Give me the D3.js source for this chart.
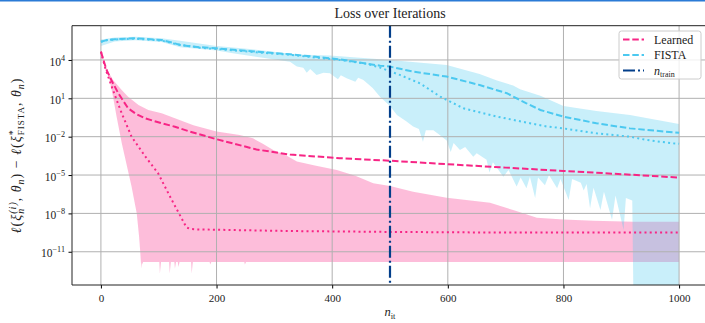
<!DOCTYPE html>
<html>
<head>
<meta charset="utf-8">
<script src="https://d3js.org/d3.v7.min.js"></script>
<style>
  html, body { margin: 0; padding: 0; background: #fff; }
  svg { display: block; font-family: "Liberation Serif", "DejaVu Serif", serif; }
</style>
</head>
<body>
<div id="chart"></div>
<script>
// values are [iteration, log10(loss gap)]
const learnedMedian = [[0,4.65],[5,3.9],[10,3.2],[18,2.43],[30,1.4],[47,0.22],[60,-0.2],[76,-0.56],[105,-0.95],[128,-1.22],[154,-1.6],[200,-2.2],[269,-3.0],[327,-3.4],[413,-3.68],[500,-3.88],[598,-4.15],[700,-4.42],[800,-4.68],[900,-4.93],[1000,-5.2]];
const learnedDotted = [[0,4.65],[8,3.3],[18,2.0],[27,0.9],[36,-0.17],[53,-2.0],[76,-3.5],[99,-4.87],[122,-6.9],[135,-8.0],[148,-9.1],[155,-9.22],[165,-9.25],[250,-9.32],[330,-9.38],[500,-9.45],[700,-9.5],[1000,-9.5]];
const learnedUpper = [[0,4.7],[10,3.3],[21,2.43],[36,1.65],[47,1.13],[65,0.48],[82,0.09],[105,-0.17],[128,-0.56],[160,-1.1],[200,-1.6],[240,-1.87],[263,-2.13],[280,-2.55],[298,-3.04],[320,-3.45],[339,-3.95],[370,-4.25],[408,-4.6],[440,-5.05],[471,-5.65],[500,-5.86],[540,-6.3],[598,-6.77],[673,-7.16],[713,-7.74],[754,-8.34],[800,-8.47],[852,-8.57],[921,-8.65],[1000,-8.65]];
const learnedLower = [[0,4.6],[6,3.8],[13,2.9],[21,1.1],[27,-0.4],[36,-2.5],[44,-4.1],[53,-5.9],[62,-8.0],[66,-9.8],[68,-11.0],[69,-11.7],[70,-12.3],[71,-11.8],[72,-12.0],[73,-11.8],[101,-11.8],[102,-12.7],[104,-11.8],[118,-11.8],[119,-12.7],[121,-11.8],[127,-11.8],[128,-12.3],[130,-11.8],[133,-11.8],[134,-12.2],[136,-11.8],[156,-11.8],[157,-12.7],[159,-11.8],[188,-11.8],[189,-12.0],[191,-11.8],[248,-11.8],[249,-12.0],[251,-11.8],[1000,-11.8]];

const fistaMedian = [[0,5.43],[10,5.55],[24,5.62],[59,5.7],[105,5.56],[128,5.3],[137,5.17],[170,5.0],[200,4.91],[269,4.65],[327,4.45],[413,4.05],[483,3.55],[500,3.48],[540,3.09],[598,2.7],[655,2.04],[702,1.4],[736,0.61],[760,0.09],[800,-0.43],[857,-0.95],[915,-1.35],[1000,-1.7]];
const fistaDotted = [[0,5.43],[10,5.55],[24,5.6],[59,5.67],[105,5.52],[128,5.26],[170,4.96],[200,4.86],[269,4.6],[327,4.4],[413,4.0],[460,3.7],[483,3.4],[517,2.83],[552,2.17],[587,1.13],[627,0.22],[685,-0.43],[742,-0.95],[771,-1.2],[800,-1.35],[857,-1.74],[915,-2.0],[944,-2.26],[990,-2.52],[1000,-2.55]];
const fistaUpper = [[0,5.6],[24,5.75],[59,5.82],[105,5.7],[137,5.5],[200,5.1],[257,4.86],[340,4.42],[396,4.35],[483,4.05],[500,4.0],[598,3.61],[655,2.9],[685,2.4],[713,2.0],[725,1.7],[760,1.2],[800,0.4],[857,0.0],[915,-0.3],[1000,-1.0]];
const fistaLower = [[0,5.1],[24,5.45],[59,5.55],[105,5.4],[137,5.0],[200,4.75],[228,4.52],[286,4.13],[327,3.87],[335,3.6],[339,3.48],[350,3.4],[356,3.0],[362,3.3],[373,2.83],[385,3.0],[396,2.96],[410,2.5],[415,2.8],[425,2.57],[440,2.3],[445,2.6],[454,2.43],[470,1.8],[483,1.1],[500,0.4],[512,-0.3],[528,-0.8],[540,-1.2],[550,-1.4],[557,-2.4],[562,-1.5],[575,-1.5],[590,-2.0],[598,-2.3],[605,-3.2],[610,-2.5],[621,-3.04],[630,-2.8],[644,-3.56],[650,-3.3],[667,-3.8],[672,-4.8],[678,-4.0],[696,-5.13],[705,-4.6],[719,-5.9],[726,-5.2],[736,-6.04],[742,-5.13],[751,-6.8],[756,-5.2],[768,-5.8],[775,-5.0],[789,-6.04],[795,-5.3],[809,-6.95],[815,-5.3],[830,-5.6],[835,-6.2],[840,-5.7],[846,-7.6],[852,-6.0],[864,-7.74],[870,-6.3],[884,-8.5],[890,-6.6],[904,-9.3],[908,-6.8],[919,-7.0],[921,-14.5],[1000,-14.5]];

const nTrain = 500;
const xTicks = [0, 200, 400, 600, 800, 1000];
const yTickExps = [-11, -8, -5, -2, 1, 4];

const W = 705, H = 323;
const plot = {left: 72, right: 708, top: 25.7, bottom: 285};
const pink = '#f72585', sky = '#4cc9f0', navy = '#023e8a';

const svg = d3.select('#chart').append('svg')
  .attr('width', W)
  .attr('height', H);

svg.append('rect').attr('x', 0).attr('y', 0).attr('width', W).attr('height', 1.5).attr('fill', '#2b7bd6');

const x = d3.scaleLinear().domain([-50, 1050]).range([plot.left, plot.right]);
const y = d3.scaleLog().domain([Math.pow(10, -13.6), Math.pow(10, 6.68)]).range([plot.bottom, plot.top]);

svg.append('clipPath').attr('id', 'clip')
  .append('rect')
  .attr('x', plot.left).attr('y', plot.top)
  .attr('width', plot.right - plot.left).attr('height', plot.bottom - plot.top);

const line = d3.line()
  .x(d => x(d[0]))
  .y(d => y(Math.pow(10, d[1])));

const body = svg.append('g').attr('clip-path', 'url(#clip)');

// bands
const band = (upper, lower) => line(upper.concat(lower.slice().reverse())) + 'Z';
body.append('path').attr('d', band(learnedUpper, learnedLower)).attr('fill', pink).attr('fill-opacity', 0.3);
body.append('path').attr('d', band(fistaUpper, fistaLower)).attr('fill', sky).attr('fill-opacity', 0.3);

// grid
body.selectAll('.gx').data(xTicks).enter().append('line')
  .attr('x1', d => x(d)).attr('x2', d => x(d))
  .attr('y1', plot.top).attr('y2', plot.bottom)
  .attr('stroke', '#b0b0b0').attr('stroke-width', 1);
body.selectAll('.gy').data(yTickExps).enter().append('line')
  .attr('x1', plot.left).attr('x2', plot.right)
  .attr('y1', d => y(Math.pow(10, d))).attr('y2', d => y(Math.pow(10, d)))
  .attr('stroke', '#b0b0b0').attr('stroke-width', 1);

// lines
const drawLine = (data, color, dash) => body.append('path')
  .attr('d', line(data))
  .attr('fill', 'none')
  .attr('stroke', color)
  .attr('stroke-width', 2)
  .attr('stroke-dasharray', dash);

drawLine(learnedMedian, pink, '6.5,2.8');
drawLine(learnedDotted, pink, '2,3.2');
drawLine(fistaMedian, sky, '6.5,2.8');
drawLine(fistaDotted, sky, '2,3.2');

body.append('line')
  .attr('x1', x(nTrain)).attr('x2', x(nTrain))
  .attr('y1', plot.top).attr('y2', plot.bottom)
  .attr('stroke', navy).attr('stroke-width', 2.2)
  .attr('stroke-dasharray', '12,3,2,3');

// axes
const xAxis = svg.append('g')
  .attr('transform', `translate(0,${plot.bottom})`)
  .call(d3.axisBottom(x).tickValues(xTicks).tickSize(3.5).tickPadding(5.5).tickFormat(d3.format('d')));
xAxis.select('.domain').remove();
xAxis.selectAll('text').attr('font-size', 11).attr('fill', '#222').attr('font-family', '"Liberation Serif", serif');

const yAxis = svg.append('g')
  .attr('transform', `translate(${plot.left},0)`)
  .call(d3.axisLeft(y).tickValues(yTickExps.map(e => Math.pow(10, e))).tickSize(3.5).tickPadding(3.5));
yAxis.select('.domain').remove();
yAxis.selectAll('text')
  .attr('font-size', 11.5).attr('fill', '#222').attr('dy', '0.45em')
  .attr('font-family', '"Liberation Serif", serif')
  .each(function(d) {
    const t = d3.select(this);
    const e = Math.round(Math.log10(d));
    t.text('');
    t.append('tspan').text('10');
    t.append('tspan').attr('dy', -5).attr('font-size', 8.2).text(String(e).replace('-', '\u2212'));
  });

// spines
svg.append('path')
  .attr('d', `M${plot.right},${plot.top}H${plot.left}V${plot.bottom}H${plot.right}`)
  .attr('fill', 'none').attr('stroke', '#222').attr('stroke-width', 1);

// title and labels
svg.append('text')
  .attr('x', (plot.left + plot.right) / 2).attr('y', 18)
  .attr('text-anchor', 'middle').attr('font-size', 14).attr('fill', '#222')
  .text('Loss over Iterations');

const xl = svg.append('text')
  .attr('x', (plot.left + plot.right) / 2).attr('y', 316)
  .attr('text-anchor', 'middle').attr('font-size', 12.5).attr('fill', '#222');
xl.append('tspan').attr('font-style', 'italic').text('n');
xl.append('tspan').attr('font-size', 8.5).attr('dy', 2.5).text('it');

const yl = svg.append('text')
  .attr('transform', `translate(21,${(plot.top + plot.bottom) / 2}) rotate(-90)`)
  .attr('text-anchor', 'middle').attr('font-size', 14).attr('fill', '#222')
  .attr('letter-spacing', 1);
const ts = (txt, opts = {}) => {
  const s = yl.append('tspan').text(txt);
  if (opts.it) s.attr('font-style', 'italic');
  if (opts.size) s.attr('font-size', opts.size);
  if (opts.dy) s.attr('dy', opts.dy);
  if (opts.dx) s.attr('dx', opts.dx);
  return s;
};
ts('\u2113', {it: true}); ts('(');
ts('\u03be', {it: true});
ts('n', {it: true, size: 10, dy: 3});
ts('(i)', {it: true, size: 10, dy: -8.5, dx: -6});
ts(', ', {dy: 5.5}); ts('\u03b8', {it: true});
ts('n', {it: true, size: 10, dy: 3});
ts(')  \u2212  ', {dy: -3}); ts('\u2113', {it: true}); ts('(');
ts('\u03be', {it: true});
ts('*', {size: 10, dy: -5.5});
ts('FISTA', {size: 9, dy: 8.5, dx: -6});
ts(', ', {dy: -3}); ts('\u03b8', {it: true});
ts('n', {it: true, size: 10, dy: 3});
ts(')', {dy: -3});

// legend
const legendItems = [
  {label: 'Learned', color: pink, dash: '6.5,2.8', width: 2},
  {label: 'FISTA', color: sky, dash: '6.5,2.8', width: 2},
  {label: 'train', color: navy, dash: '12,3,2,3', width: 2.2}
];
const lg = svg.append('g');
lg.append('rect')
  .attr('x', 619).attr('y', 31).attr('width', 82).attr('height', 48).attr('rx', 2.5)
  .attr('fill', '#fff').attr('fill-opacity', 0.8).attr('stroke', '#ccc').attr('stroke-width', 1);
legendItems.forEach((d, i) => {
  const yy = 39.5 + i * 15.5;
  lg.append('line').attr('x1', 623).attr('x2', 644).attr('y1', yy).attr('y2', yy)
    .attr('stroke', d.color).attr('stroke-width', d.width).attr('stroke-dasharray', d.dash);
  const t = lg.append('text').attr('x', 654).attr('y', yy + 4).attr('font-size', 12).attr('fill', '#222');
  if (i === 2) {
    t.append('tspan').attr('font-style', 'italic').text('n');
    t.append('tspan').attr('font-size', 8).attr('dy', 2.5).text(d.label);
  } else {
    t.text(d.label);
  }
});
</script>
</body>
</html>
